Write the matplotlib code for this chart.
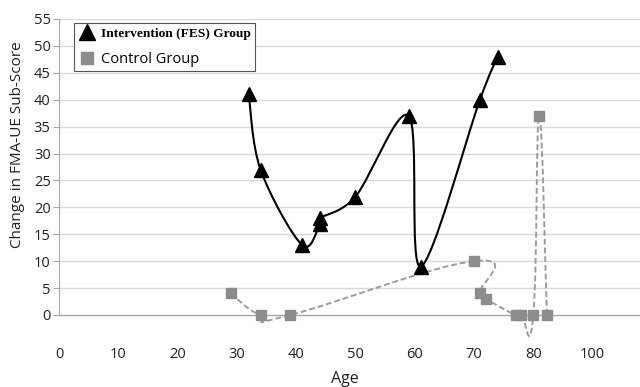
import matplotlib.pyplot as plt
import numpy as np
from matplotlib.path import Path
from matplotlib.patches import PathPatch
from matplotlib.lines import Line2D

# Data (age, change in FMA-UE sub-score)
fes_age = [32, 34, 41, 44, 44, 50, 59, 61, 71, 74]
fes_score = [41, 27, 13, 17, 18, 22, 37, 9, 40, 48]

ctrl_age = [29, 34, 39, 70, 71, 72, 77, 78, 80, 81, 82.3]
ctrl_score = [4, 0, 0, 10, 4, 3, 0, 0, 0, 37, 0]

xticks = [0, 10, 20, 30, 40, 50, 60, 70, 80, 90]
xtick_labels = ['0', '10', '20', '30', '40', '50', '60', '70', '80', '100']
yticks = list(range(0, 56, 5))

sans = 'Open Sans'
txt_color = '#222222'


# Excel-style smoothed line: cubic Bezier through every point
def smooth_path(xs, ys, k=1 / 6):
    p = np.column_stack([xs, ys]).astype(float)
    n = len(p)
    verts = [p[0]]
    codes = [Path.MOVETO]
    for i in range(n - 1):
        p0 = p[i - 1] if i > 0 else p[i]
        p3 = p[i + 2] if i + 2 < n else p[i + 1]
        c1 = p[i] + (p[i + 1] - p0) * k
        c2 = p[i + 1] - (p3 - p[i]) * k
        verts += [c1, c2, p[i + 1]]
        codes += [Path.CURVE4] * 3
    return Path(verts, codes)


fig = plt.figure(figsize=(6.4, 3.87), dpi=100)
ax = fig.add_axes([59 / 640, 1 - 344.6 / 387, 1 - 59 / 640, (344.6 - 19) / 387])

ax.set_xlim(0, 98)
ax.set_ylim(-5.5, 55)

for y in yticks[1:]:
    ax.axhline(y, color='#d9d9d9', lw=1, zorder=0)
ax.axhline(0, color='#a6a6a6', lw=1, zorder=1)

ax.add_patch(PathPatch(smooth_path(fes_age, fes_score), fill=False,
                       edgecolor='black', lw=1.5, zorder=3))
ax.plot(fes_age, fes_score, ls='none', marker='^', ms=9.5, color='black', zorder=4)

ax.add_patch(PathPatch(smooth_path(ctrl_age, ctrl_score, k=0.24), fill=False,
                       edgecolor='#9c9c9c', lw=1.4, ls=(0, (3, 1.5)), zorder=3))
ax.plot(ctrl_age, ctrl_score, ls='none', marker='s', ms=7.5, color='#8c8c8c', zorder=4)

for s in ['top', 'right', 'bottom']:
    ax.spines[s].set_visible(False)
ax.spines['left'].set_color('#a6a6a6')
ax.spines['left'].set_bounds(0, 55)

ax.set_yticks(yticks)
ax.set_xticks(xticks)
ax.set_xticklabels(xtick_labels)
ax.tick_params(axis='y', length=4, color='#a6a6a6', pad=2, labelsize=10.5, labelcolor=txt_color)
ax.tick_params(axis='x', length=0, pad=2, labelsize=10.5, labelcolor=txt_color)
for t in ax.get_xticklabels() + ax.get_yticklabels():
    t.set_fontfamily(sans)

# axis titles placed where the reference has them
fig.text(345 / 640, 1 - 383 / 387, 'Age', fontsize=11.5, fontfamily=sans,
         color=txt_color, ha='center', va='baseline')
fig.text(18 / 640, 1 - 145 / 387, 'Change in FMA-UE Sub-Score', fontsize=11,
         fontfamily=sans, color=txt_color, rotation=90, ha='center', va='center')

handles = [Line2D([], [], ls='none', marker='^', ms=11, color='black'),
           Line2D([], [], ls='none', marker='s', ms=8, color='#8c8c8c')]
leg = fig.legend(handles, ['Intervention (FES) Group', 'Control Group'],
                 loc='upper left', bbox_to_anchor=(74 / 640, 1 - 23 / 387),
                 bbox_transform=fig.transFigure, borderaxespad=0,
                 fancybox=False, framealpha=1, edgecolor='#555555',
                 handlelength=1.2, handletextpad=0.45, labelspacing=0.85,
                 borderpad=0.3)
leg.get_frame().set_linewidth(0.8)
t1, t2 = leg.get_texts()
t1.set_fontfamily('Liberation Serif')
t1.set_fontweight('bold')
t1.set_fontsize(9.6)
t2.set_fontfamily(sans)
t2.set_fontsize(10.5)

fig.savefig('out.png', dpi=100)
